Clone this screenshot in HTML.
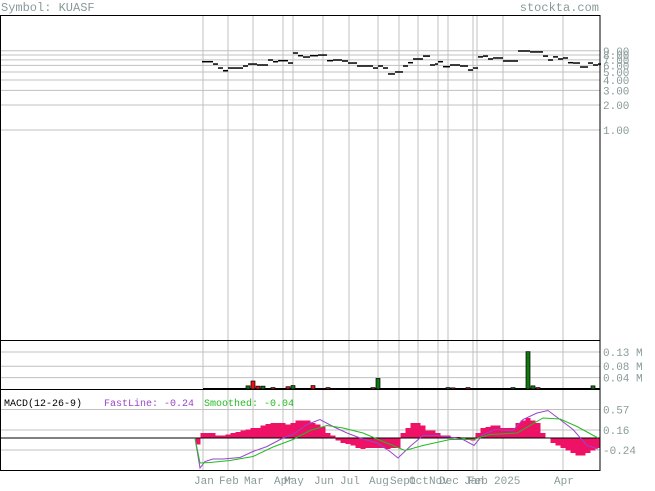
<!DOCTYPE html>
<html><head><meta charset="utf-8"><style>
body{margin:0;background:#fff;}
svg text{font-family:"Liberation Mono",monospace;font-size:11px;}
svg text.leg{font-size:10px;}
svg text.hdr{font-size:12px;}
</style></head><body>
<svg id="c" width="655" height="486" xmlns="http://www.w3.org/2000/svg">
<text class="hdr" x="1" y="11" fill="#8a9a9a">Symbol: KUASF</text>
<text class="hdr" x="599" y="11" fill="#8a9a9a" text-anchor="end">stockta.com</text>
<g id="grid"></g><g id="marks"></g><g id="axes"></g>
<text class="leg" x="4" y="406" fill="#000">MACD(12-26-9)</text>
<text class="leg" x="104" y="406" fill="#9944cc">FastLine: -0.24</text>
<text class="leg" x="204" y="406" fill="#22bb22">Smoothed: -0.04</text>
</svg>
<script>
const NS="http://www.w3.org/2000/svg";
const monthLabels=["Jan","Feb","Mar","Apr","May","Jun","Jul","Aug","Sept","Oct","Nov","Dec","Jan","Feb","2025","Apr"];
const monthWeeks=[1,6,11,17,19,25,30.2,36,40.2,44,48,50,55,55.8,61,73];
const priceTicks=[1,2,3,4,5,6,7,8,9];
const volTicks=[0.04,0.08,0.13];
const macdTicks=[0.57,0.16,-0.24];
const priceWeeks=[0.8,3,4,5,6,8,9,10,11.8,14,15,16,18,19,20,21,22.4,24,25.8,27,28.8,30,31.8,33.8,35,36,37,38,39.4,41,42,43,45,46.4,47.4,48,49,50.4,52.4,54,55,56,57,58,59,61,63,64,66.4,69,70,71,72,73,74,75,76.4,78,79,80];
const prices=[6.65,6.23,5.58,5.18,5.58,5.58,5.9,6.23,6.07,6.97,6.65,6.84,6.41,8.46,7.86,7.57,7.86,8.0,6.84,6.97,6.78,6.41,5.9,5.9,5.58,5.9,5.58,4.73,5.0,5.9,6.47,7.17,7.77,6.07,6.23,6.65,5.79,6.07,5.9,5.28,5.58,7.6,7.77,7.17,7.37,6.78,6.78,8.95,8.72,7.77,6.97,7.6,7.17,7.37,6.47,6.41,5.74,6.41,6.07,6.23];
const volWeeks=[10,11,12,13,15,18,19,23,26,35,36,50,51,54,63,66,67,68,79];
const volumes=[0.011,0.028,0.01,0.01,0.005,0.008,0.012,0.012,0.005,0.005,0.037,0.005,0.004,0.005,0.005,0.131,0.011,0.005,0.011];
const volUp=[1,0,0,1,0,0,1,0,0,0,1,1,0,0,1,1,1,0,1];
const fastWeeks=[-0.6,0.4,1.4,3,5,8.4,11,13.8,17,19,21.8,24.4,27,29.8,32.4,35.8,38.4,40,42.4,45,48,50.4,53,55.2,57,59.4,63,65,67.8,70,72.4,75,77.8,80];
const fastVals=[0,-0.6,-0.47,-0.42,-0.42,-0.39,-0.27,-0.17,0,0.07,0.27,0.37,0.23,0.1,0,-0.1,-0.27,-0.4,-0.17,0.05,0.05,0.02,-0.03,-0.15,0.07,0.17,0.15,0.37,0.5,0.55,0.37,0.17,-0.15,-0.22];
const smoothWeeks=[-0.6,0.4,2.4,6.4,11,15,19,22.4,25.8,29,33,37,41.4,45,50.4,55,58.4,63.8,69,72.4,75.8,80];
const smoothVals=[0,-0.5,-0.49,-0.45,-0.37,-0.18,-0.03,0.15,0.25,0.2,0.1,-0.07,-0.25,-0.15,-0.03,-0.03,0.07,0.1,0.4,0.38,0.23,0];
const histVals=[-0.13,0.1,0.1,0.1,0.05,0.05,0.07,0.1,0.12,0.15,0.17,0.2,0.2,0.25,0.28,0.3,0.3,0.3,0.27,0.3,0.35,0.35,0.35,0.3,0.27,0.22,0.1,0.05,-0.05,-0.1,-0.12,-0.15,-0.2,-0.22,-0.2,-0.2,-0.2,-0.2,-0.22,-0.2,-0.2,0.1,0.2,0.3,0.3,0.25,0.15,0.15,0.1,0.05,0.05,0.02,0.02,0,-0.02,-0.05,0.1,0.2,0.22,0.25,0.25,0.2,0.2,0.2,0.3,0.35,0.4,0.35,0.3,0.1,0,-0.1,-0.15,-0.2,-0.25,-0.3,-0.35,-0.35,-0.3,-0.25,-0.2];

const X=w=>198+w*5;
const PY=p=>130-83*Math.log10(p);
const VY=v=>389-v*285;
const MY=m=>438-m*50;
const grid=document.getElementById('grid'),marks=document.getElementById('marks'),axes=document.getElementById('axes');
function mk(tag,attrs,parent){const e=document.createElementNS(NS,tag);for(const k in attrs)e.setAttribute(k,attrs[k]);parent.appendChild(e);return e;}

monthWeeks.forEach((w,i)=>{
  const l=mk('line',{x1:X(w),x2:X(w),y1:15,y2:470,stroke:'#c0c0c0'},grid);
  
  
  const t=mk('text',{x:X(w)-9,y:484,fill:'#8a9a9a'},axes);
  t.textContent=monthLabels[i];
  
  
});
priceTicks.forEach(p=>{
  const l=mk('line',{x1:0,x2:600,y1:PY(p),y2:PY(p),stroke:'#c0c0c0'},grid);
  
  
  const t=mk('text',{x:603,y:PY(p)+4,fill:'#8a9a9a'},axes);
  t.textContent=p.toFixed(2);
  
  
});
volTicks.forEach(v=>{
  const l=mk('line',{x1:0,x2:600,y1:VY(v),y2:VY(v),stroke:'#c0c0c0'},grid);
  
  
  const t=mk('text',{x:603,y:VY(v)+4,fill:'#8a9a9a'},axes);
  t.textContent=v.toFixed(2)+' M';
  
  
});
macdTicks.forEach(m=>{
  const l=mk('line',{x1:0,x2:600,y1:MY(m),y2:MY(m),stroke:'#c0c0c0'},grid);
  
  
  const t=mk('text',{x:603,y:MY(m)+4,fill:'#8a9a9a'},axes);
  t.textContent=m.toFixed(2);
  
  
});
priceWeeks.forEach((w,i)=>{
  const x2=i<priceWeeks.length-1?X(priceWeeks[i+1]):X(w)+3;
  const s=mk('line',{x1:X(w),x2:x2,y1:PY(prices[i]),y2:PY(prices[i]),stroke:'#000','stroke-width':1.5},marks);
  
  
});
mk('line',{x1:X(1),x2:600,y1:389,y2:389,stroke:'#000','stroke-width':2},marks);
volWeeks.forEach((w,i)=>{
  const r=mk('rect',{x:X(w)-2,y:VY(volumes[i]),width:4,height:389-VY(volumes[i]),fill:volUp[i]?'#117711':'#ee1111',stroke:'#000','stroke-width':0.7},marks);
  
  
});
histVals.forEach((v,i)=>{
  const y=Math.min(MY(v),MY(0)),h=Math.abs(MY(v)-MY(0));
  const r=mk('rect',{x:X(i)-2.5,y:y,width:5,height:h,fill:'#ee1166'},marks);
  
  
});
const zl=mk('line',{x1:0,x2:600,y1:MY(0),y2:MY(0),stroke:'#000'},marks);


const fp=mk('polyline',{points:fastWeeks.map((w,i)=>X(w)+','+MY(fastVals[i])).join(' '),fill:'none',stroke:'#9944cc'},marks);


const sp=mk('polyline',{points:smoothWeeks.map((w,i)=>X(w)+','+MY(smoothVals[i])).join(' '),fill:'none',stroke:'#22bb22'},marks);


[[15,340],[340,389],[389,470]].forEach(p=>{
  const r=mk('rect',{x:0.5,y:p[0]+0.5,width:599.5,height:p[1]-p[0],fill:'none',stroke:'#000'},axes);
  
  
});
</script>
</body></html>
